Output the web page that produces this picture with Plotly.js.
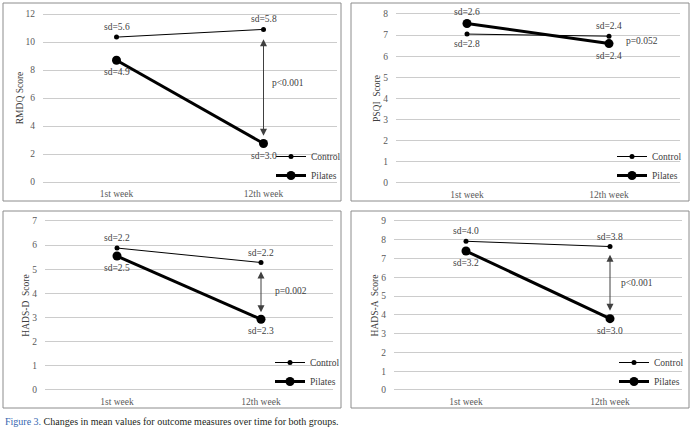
<!DOCTYPE html>
<html><head><meta charset="utf-8">
<script src="https://cdn.plot.ly/plotly-3.0.1.min.js"></script>
<style>html,body{margin:0;padding:0;background:#fff}</style>
</head><body><div id="chart" style="width:693px;height:430px"></div>
<script>
// ---------------- DATA ----------------
const weeks = ['1st week', '12th week'];
const groups = ['Control', 'Pilates'];

const rmdqControl = [10.35, 10.9];
const rmdqPilates = [8.7, 2.75];
const rmdqSdControl = ['5.6', '5.8'];
const rmdqSdPilates = ['4.9', '3.0'];

const psqiControl = [7.05, 6.95];
const psqiPilates = [7.55, 6.6];
const psqiSdControl = ['2.8', '2.4'];
const psqiSdPilates = ['2.6', '2.4'];

const hadsdControl = [5.88, 5.28];
const hadsdPilates = [5.55, 2.93];
const hadsdSdControl = ['2.2', '2.2'];
const hadsdSdPilates = ['2.5', '2.3'];

const hadsaControl = [7.92, 7.64];
const hadsaPilates = [7.4, 3.8];
const hadsaSdControl = ['4.0', '3.8'];
const hadsaSdPilates = ['3.2', '3.0'];

const axisTitles = ['RMDQ Score', 'PSQI  Score', 'HADS-D  Score', 'HADS-A  Score'];
const yMax = [12, 8, 7, 9];
const yStep = [2, 1, 1, 1];
const pLabels = ['p<0.001', 'p=0.052', 'p=0.002', 'p<0.001'];
const pLabelY = [7.1, 6.73, 4.1, 5.7];
const arrowTop = [10.3, null, 4.97, 7.28];
const arrowBottom = [3.3, null, 3.22, 4.22];
const captionLabel = 'Figure 3.';
const captionText = ' Changes in mean values for outcome measures over time for both groups.';

// ---------------- LAYOUT CONFIG ----------------
const W = 693, H = 430;
const px = v => v / W;
const py = v => 1 - v / H;

const panels = [
  {ctrl: rmdqControl, pil: rmdqPilates, sdC: rmdqSdControl, sdP: rmdqSdPilates,
   plot: [43, 337, 14, 182], box: [3, 341, 3, 201], legX: 271, legY: 166, pShift: 6},
  {ctrl: psqiControl, pil: psqiPilates, sdC: psqiSdControl, sdP: psqiSdPilates,
   plot: [396, 680, 14, 183], box: [351, 689, 3, 201], legX: 612, legY: 166, pShift: 15},
  {ctrl: hadsdControl, pil: hadsdPilates, sdC: hadsdSdControl, sdP: hadsdSdPilates,
   plot: [45, 333, 221, 390], box: [3, 341, 211, 408], legX: 270, legY: 372, pShift: 12},
  {ctrl: hadsaControl, pil: hadsaPilates, sdC: hadsaSdControl, sdP: hadsaSdPilates,
   plot: [394, 682, 221, 390], box: [351, 689, 211, 408], legX: 614, legY: 372, pShift: 9}
];

const FONT = 'Liberation Serif';
const TXT = '#404040';
const traces = [];
const annotations = [];
const shapes = [];
const layout = {
  width: W, height: H,
  margin: {l: 0, r: 0, t: 0, b: 0},
  paper_bgcolor: '#ffffff', plot_bgcolor: '#ffffff',
  font: {family: FONT, size: 9, color: TXT},
  showlegend: true
};

panels.forEach((p, i) => {
  const n = i === 0 ? '' : String(i + 1);
  const xa = 'x' + n, ya = 'y' + n;
  const legName = 'legend' + n;
  const common = {x: weeks, xaxis: xa, yaxis: ya, legend: legName, mode: 'lines+markers',
                  hoverinfo: 'skip', cliponaxis: false};
  traces.push(Object.assign({}, common, {y: p.ctrl, name: groups[0],
    line: {color: '#000', width: 1}, marker: {color: '#000', size: 5}}));
  traces.push(Object.assign({}, common, {y: p.pil, name: groups[1],
    line: {color: '#000', width: 3}, marker: {color: '#000', size: 9}}));

  const pad = yMax[i] * 0.006;
  const pxPerUnit = (p.plot[3] - p.plot[2]) / yMax[i];
  const padPx = pad * pxPerUnit;
  layout['xaxis' + n] = {
    domain: [px(p.plot[0]), px(p.plot[1])], anchor: ya,
    type: 'category', range: [-0.5, 1.5],
    showgrid: false, zeroline: false, showline: false, ticks: '',
    tickfont: {family: FONT, size: 9.5, color: '#595959'}, ticklabelstandoff: 3,
    fixedrange: true
  };
  layout['yaxis' + n] = {
    domain: [py(p.plot[3] + padPx), py(p.plot[2] - padPx)], anchor: xa,
    range: [-pad, yMax[i] + pad], dtick: yStep[i], tick0: 0,
    showgrid: true, gridcolor: '#cccccc', gridwidth: 1,
    zeroline: false, showline: false, ticks: '',
    tickfont: {family: FONT, size: 9.5, color: '#595959'}, ticklabelstandoff: 7,
    title: {text: axisTitles[i], font: {family: FONT, size: 9.5, color: TXT}, standoff: 0},
    fixedrange: true
  };
  layout[legName] = {
    x: px(p.legX), xanchor: 'left', y: py(p.legY), yanchor: 'middle',
    bgcolor: 'rgba(0,0,0,0)', font: {family: FONT, size: 9.5, color: TXT},
    itemclick: false, itemdoubleclick: false
  };

  // sd labels: above the higher point, below the lower point
  weeks.forEach((w, k) => {
    const cHigher = p.ctrl[k] >= p.pil[k];
    annotations.push({x: w, y: p.ctrl[k], xref: xa, yref: ya, showarrow: false,
      text: 'sd=' + p.sdC[k], yshift: cHigher ? 10 : -10, font: {family: FONT, size: 9.5, color: TXT}});
    annotations.push({x: w, y: p.pil[k], xref: xa, yref: ya, showarrow: false,
      text: 'sd=' + p.sdP[k], yshift: cHigher ? -12 : 12, font: {family: FONT, size: 9.5, color: TXT}});
  });

  // p-value label
  annotations.push({x: weeks[1], y: pLabelY[i], xref: xa, yref: ya, showarrow: false,
    xanchor: 'left', xshift: p.pShift, text: pLabels[i], font: {family: FONT, size: 9.5, color: TXT}});

  // double-headed arrow
  if (arrowTop[i] !== null) {
    annotations.push({x: weeks[1], y: arrowBottom[i], ax: weeks[1], ay: arrowTop[i],
      xref: xa, yref: ya, axref: xa, ayref: ya, text: '', showarrow: true,
      arrowhead: 2, startarrowhead: 2, arrowside: 'end+start', arrowsize: 1.4, startarrowsize: 1.4,
      arrowwidth: 1, arrowcolor: '#404040', standoff: 0, startstandoff: 0});
  }

  shapes.push({type: 'rect', xref: 'paper', yref: 'paper',
    x0: px(p.box[0]), x1: px(p.box[1]), y0: py(p.box[3]), y1: py(p.box[2]),
    line: {color: '#8c8c8c', width: 1}, fillcolor: 'rgba(0,0,0,0)', layer: 'above'});
});

annotations.push({x: px(3), y: py(421), xref: 'paper', yref: 'paper', xanchor: 'left', yanchor: 'middle',
  showarrow: false, align: 'left',
  text: '<span style="color:#3566b0">' + captionLabel + '</span>' + captionText,
  font: {family: FONT, size: 10, color: '#231f20'}});

layout.annotations = annotations;
layout.shapes = shapes;

Plotly.newPlot('chart', traces, layout, {displayModeBar: false, staticPlot: true});
</script>
</body></html>
